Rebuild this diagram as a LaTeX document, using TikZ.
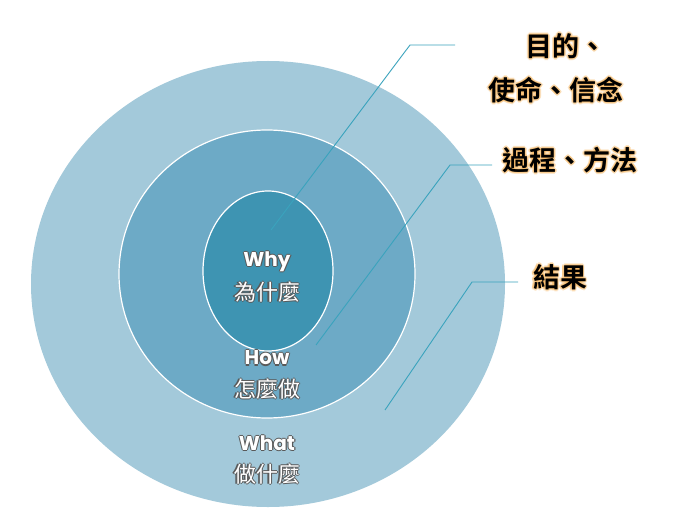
\documentclass[tikz,border=0pt]{standalone}
\usepackage{fontspec}
\usetikzlibrary{shapes.geometric}
\newfontfamily\cjk{Noto Sans CJK TC}[BoldFont={* Bold}]
\newfontfamily\lat{Poppins}[BoldFont={* Bold}]
\definecolor{outerc}{HTML}{A3C9DA}
\definecolor{midc}{HTML}{6DAAC6}
\definecolor{innc}{HTML}{3E94B2}
\definecolor{linec}{HTML}{3AA3BD}
\definecolor{glow}{HTML}{F7B45A}
\newcommand{\glowtext}[3]{%
  \foreach \dx/\dy in {-1.8/0,1.8/0,0/-1.8,0/1.8,-1.3/-1.3,1.3/1.3,-1.3/1.3,1.3/-1.3}
    \node[text=glow,opacity=0.35,font=\cjk\bfseries\fontsize{27}{30}\selectfont] at ([shift={(\dx,\dy)}]#1) {#2};
  \node[font=\cjk\bfseries\fontsize{27}{30}\selectfont] (#3) at (#1) {#2};}
\newcommand{\whitetext}[4]{%
  \foreach \dx/\dy in {-1.1/0,1.1/0,0/-1.1,0/1.1}
    \node[text=black!65,font=#3] at ([shift={(\dx,\dy)}]#1) {#2};
  \node[text=white,font=#3] (#4) at (#1) {#2};}
\begin{document}
\begin{tikzpicture}[x=1pt,y=-1pt,conn/.style={draw=linec,line width=0.9pt}]
\useasboundingbox (0,0) rectangle (700,513);
\fill[white] (0,0) rectangle (700,513);
\node[ellipse,minimum width=474pt,minimum height=446pt,fill=outerc,inner sep=0] (outer) at (268,284) {};
\node[ellipse,minimum width=296pt,minimum height=288pt,fill=midc,draw=white,line width=1.2pt,inner sep=0] (mid) at (267,274) {};
\node[ellipse,minimum width=130pt,minimum height=160pt,fill=innc,draw=white,line width=1.2pt,inner sep=0] (inn) at (268,271) {};
% connectors
\coordinate (w1) at (271,230); \coordinate (w2) at (410,45); \coordinate (w3) at (455,45);
\coordinate (h1) at (316,345); \coordinate (h2) at (450,165); \coordinate (h3) at (492,165);
\coordinate (t1) at (385,410); \coordinate (t2) at (472,282); \coordinate (t3) at (518,282);
\draw[conn] (w1) -- (w2) -- (w3);
\draw[conn] (h1) -- (h2) -- (h3);
\draw[conn] (t1) -- (t2) -- (t3);
\whitetext{267,262}{Why}{\lat\bfseries\fontsize{20}{22}\selectfont}{why}
\whitetext{267,292}{為什麼}{\cjk\fontsize{22}{24}\selectfont}{whyc}
\whitetext{267,358}{How}{\lat\bfseries\fontsize{20}{22}\selectfont}{how}
\whitetext{267,389}{怎麼做}{\cjk\fontsize{22}{24}\selectfont}{howc}
\whitetext{267,443}{What}{\lat\bfseries\fontsize{20}{22}\selectfont}{what}
\whitetext{267,474}{做什麼}{\cjk\fontsize{22}{24}\selectfont}{whatc}
\glowtext{566,46}{目的、}{l1}
\glowtext{556,90}{使命、信念}{l2}
\glowtext{570,160}{過程、方法}{l3}
\glowtext{560,277}{結果}{l4}
\end{tikzpicture}
\end{document}
